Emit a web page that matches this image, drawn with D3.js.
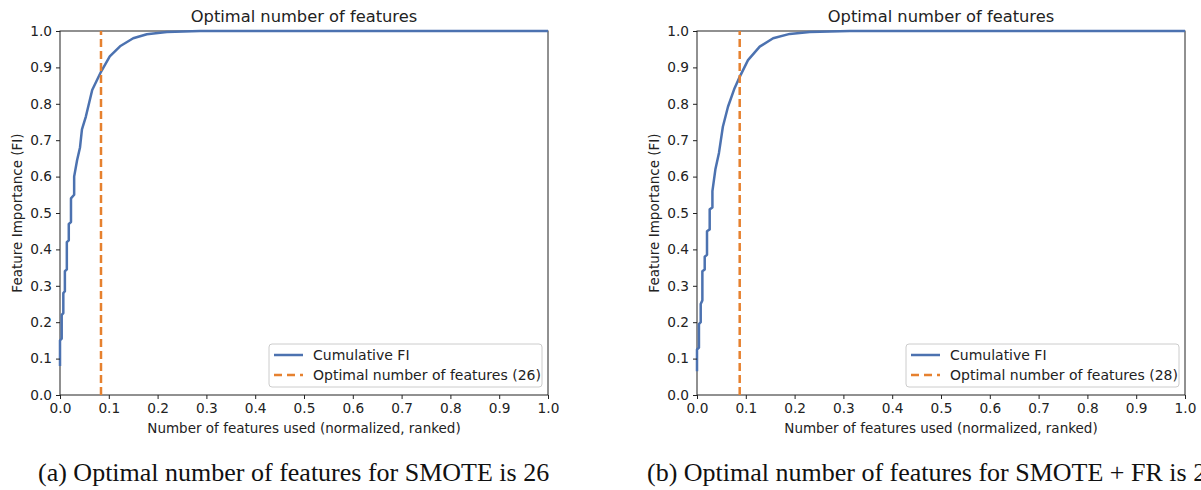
<!DOCTYPE html>
<html>
<head>
<meta charset="utf-8">
<script src="https://cdn.jsdelivr.net/npm/d3@7"></script>
<style>
    body { margin: 0; background: #fff; }
    svg { display: block; }
    .tick text { font-family: "DejaVu Sans", sans-serif; font-size: 13.7px; fill: #222; }
    .axis path, .axis line { stroke: #222; }
</style>
</head>
<body>
<div id="chart"></div>
<script>
// Cumulative feature importance (x = normalized rank, y = cumulative FI)
const smoteX = [0, 0, 0.0035, 0.0035, 0.0068, 0.0068, 0.010, 0.010, 0.014, 0.014, 0.018, 0.018, 0.0225, 0.0225,
    0.029, 0.029, 0.035, 0.041, 0.045, 0.053, 0.066, 0.084, 0.102, 0.123, 0.150, 0.178, 0.219, 0.287, 1.0];
const smoteY = [0.08, 0.15, 0.155, 0.22, 0.225, 0.28, 0.285, 0.34, 0.345, 0.42, 0.425, 0.47, 0.475, 0.54,
    0.55, 0.60, 0.645, 0.68, 0.73, 0.765, 0.838, 0.888, 0.93, 0.958, 0.98, 0.991, 0.997, 1.0, 1.0];

const frX = [0, 0, 0.004, 0.004, 0.0076, 0.0076, 0.011, 0.011, 0.0158, 0.0158, 0.0205, 0.0205, 0.026, 0.026,
    0.0316, 0.0316, 0.0377, 0.045, 0.053, 0.0635, 0.077, 0.0875, 0.1045, 0.1285, 0.156, 0.19, 0.231, 0.313, 1.0];
const frY = [0.065, 0.125, 0.13, 0.195, 0.2, 0.25, 0.26, 0.34, 0.345, 0.38, 0.385, 0.45, 0.455, 0.51,
    0.515, 0.56, 0.62, 0.665, 0.737, 0.792, 0.843, 0.874, 0.92, 0.957, 0.98, 0.992, 0.997, 1.0, 1.0];

const optimalCount = [26, 28];
const optimalX = [0.084, 0.0875];
const captions = [
    '(a) Optimal number of features for SMOTE is 26',
    '(b) Optimal number of features for SMOTE + FR is 28'
];
const tickValues = [0, 0.1, 0.2, 0.3, 0.4, 0.5, 0.6, 0.7, 0.8, 0.9, 1.0];

const blue = '#4c72b0';
const orange = '#e6812f';

const svg = d3.select('#chart').append('svg')
    .attr('width', 1201)
    .attr('height', 490);

function drawPanel(left, xs, ys, optX, optN, caption, captionX) {
    const width = 488, height = 364, top = 31;
    const g = svg.append('g').attr('transform', `translate(${left},${top})`);

    const xScale = d3.scaleLinear().domain([0, 1]).range([0, width]);
    const yScale = d3.scaleLinear().domain([0, 1]).range([height, 0]);

    // box round the plot area
    g.append('rect')
        .attr('width', width).attr('height', height)
        .attr('fill', 'none').attr('stroke', '#222').attr('stroke-width', 1);

    const line = d3.line()
        .x(d => xScale(d[0]))
        .y(d => yScale(d[1]));

    g.append('path')
        .datum(xs.map((x, i) => [x, ys[i]]))
        .attr('d', line)
        .attr('fill', 'none')
        .attr('stroke', blue)
        .attr('stroke-width', 2.5)
        .attr('stroke-linejoin', 'round');

    g.append('line')
        .attr('x1', xScale(optX)).attr('x2', xScale(optX))
        .attr('y1', yScale(0)).attr('y2', yScale(1))
        .attr('stroke', orange)
        .attr('stroke-width', 2.5)
        .attr('stroke-dasharray', '8,4');

    const xAxis = d3.axisBottom(xScale).tickValues(tickValues).tickFormat(d3.format('.1f')).tickSizeOuter(0).tickSize(4).tickPadding(4);
    const yAxis = d3.axisLeft(yScale).tickValues(tickValues).tickFormat(d3.format('.1f')).tickSizeOuter(0).tickSize(4).tickPadding(4);

    g.append('g').attr('class', 'axis').attr('transform', `translate(0,${height})`).call(xAxis)
        .call(a => a.select('.domain').remove());
    g.append('g').attr('class', 'axis').call(yAxis)
        .call(a => a.select('.domain').remove());

    // titles
    g.append('text')
        .attr('x', width / 2).attr('y', -9)
        .attr('text-anchor', 'middle')
        .style('font-family', 'DejaVu Sans, sans-serif').style('font-size', '16.3px').attr('fill', '#222')
        .text('Optimal number of features');

    g.append('text')
        .attr('x', width / 2).attr('y', height + 38)
        .attr('text-anchor', 'middle')
        .style('font-family', 'DejaVu Sans, sans-serif').style('font-size', '13.5px').attr('fill', '#222')
        .text('Number of features used (normalized, ranked)');

    g.append('text')
        .attr('transform', `translate(-38,${height / 2}) rotate(-90)`)
        .attr('text-anchor', 'middle')
        .style('font-family', 'DejaVu Sans, sans-serif').style('font-size', '13.5px').attr('fill', '#222')
        .text('Feature Importance (FI)');

    // legend
    const lg = g.append('g').attr('transform', `translate(${width - 279},${height - 51})`);
    lg.append('rect')
        .attr('width', 273).attr('height', 43).attr('rx', 3)
        .attr('fill', '#fff').attr('fill-opacity', 0.8)
        .attr('stroke', '#ccc');
    lg.append('line').attr('x1', 5).attr('x2', 34).attr('y1', 11).attr('y2', 11)
        .attr('stroke', blue).attr('stroke-width', 2.5);
    lg.append('line').attr('x1', 5).attr('x2', 34).attr('y1', 31).attr('y2', 31)
        .attr('stroke', orange).attr('stroke-width', 2.5).attr('stroke-dasharray', '8,5');
    lg.append('text').attr('x', 44).attr('y', 16)
        .style('font-family', 'DejaVu Sans, sans-serif').style('font-size', '14px').attr('fill', '#222')
        .text('Cumulative FI');
    lg.append('text').attr('x', 44).attr('y', 36)
        .style('font-family', 'DejaVu Sans, sans-serif').style('font-size', '14px').attr('fill', '#222')
        .text(`Optimal number of features (${optN})`);

    // caption under the panel (the right one runs off the page, as in the original)
    svg.append('text')
        .attr('x', captionX).attr('y', 481)
        .style('font-family', 'Liberation Serif, serif').style('font-size', '26px').attr('fill', '#111')
        .text(caption);
}

drawPanel(60, smoteX, smoteY, optimalX[0], optimalCount[0], captions[0], 38);
drawPanel(697, frX, frY, optimalX[1], optimalCount[1], captions[1], 647);
</script>
</body>
</html>
